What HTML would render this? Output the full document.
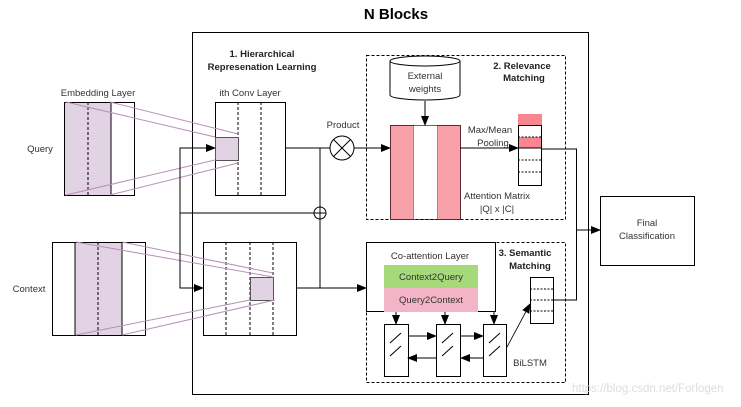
<!DOCTYPE html>
<html><head><meta charset="utf-8"><style>
html,body{margin:0;padding:0;background:#fff;width:741px;height:407px;overflow:hidden}
svg{display:block;font-family:"Liberation Sans",sans-serif}
</style></head><body>
<svg width="741" height="407" viewBox="0 0 741 407">
<defs><marker id="a" markerWidth="10" markerHeight="8" refX="9" refY="4" orient="auto" markerUnits="userSpaceOnUse"><path d="M0,0 L10,4 L0,8 z" fill="#000"/></marker></defs>
<rect width="741" height="407" fill="#fff"/>
<text x="396" y="19" font-size="15" font-weight="bold" text-anchor="middle">N Blocks</text>
<rect x="192.5" y="32.5" width="396" height="362" fill="none" stroke="#000" stroke-width="1"/>
<!-- embeddings -->
<rect x="64" y="102" width="47" height="93" fill="#e1d3e3"/>
<rect x="64.5" y="102.5" width="70" height="93" fill="none" stroke="#000"/>
<line x1="111" y1="102" x2="111" y2="195" stroke="#000"/>
<line x1="88" y1="102" x2="88" y2="195" stroke="#000" stroke-dasharray="3,2"/>
<rect x="75" y="242" width="47" height="93" fill="#e1d3e3"/>
<rect x="52.5" y="242.5" width="93" height="93" fill="none" stroke="#000"/>
<line x1="75" y1="242" x2="75" y2="335" stroke="#000"/><line x1="122" y1="242" x2="122" y2="335" stroke="#000"/>
<line x1="98" y1="242" x2="98" y2="335" stroke="#000" stroke-dasharray="3,2"/>
<!-- convs -->
<rect x="215.5" y="102.5" width="70" height="93" fill="none" stroke="#000"/>
<line x1="238" y1="102" x2="238" y2="195" stroke="#000" stroke-dasharray="3,2"/>
<line x1="261" y1="102" x2="261" y2="195" stroke="#000" stroke-dasharray="3,2"/>
<rect x="215.5" y="137.5" width="23" height="23" fill="#e1d3e3" stroke="#555"/>
<rect x="203.5" y="242.5" width="93" height="93" fill="none" stroke="#000"/>
<line x1="226" y1="242" x2="226" y2="335" stroke="#000" stroke-dasharray="3,2"/>
<line x1="250" y1="242" x2="250" y2="335" stroke="#000" stroke-dasharray="3,2"/>
<line x1="273" y1="242" x2="273" y2="335" stroke="#000" stroke-dasharray="3,2"/>
<rect x="250.5" y="277.5" width="23" height="23" fill="#e1d3e3" stroke="#555"/>
<g stroke="#b88fb8" stroke-width="1">
<line x1="66" y1="102" x2="215" y2="137"/><line x1="110" y1="102" x2="238" y2="134"/>
<line x1="66" y1="195" x2="215" y2="160"/><line x1="110" y1="195" x2="238" y2="163"/>
<line x1="76" y1="242" x2="273" y2="277"/><line x1="122" y1="242" x2="273" y2="273"/>
<line x1="76" y1="335" x2="250" y2="300"/><line x1="122" y1="335" x2="275" y2="300"/>
</g>
<!-- connectors -->
<g stroke="#000" fill="none">
<polyline points="215,148 180,148 180,288 203,288" />
<line x1="180" y1="148" x2="215" y2="148" marker-end="url(#a)"/>
<line x1="180" y1="288" x2="203" y2="288" marker-end="url(#a)"/>
<line x1="180" y1="213" x2="314" y2="213"/>
<line x1="285" y1="148" x2="330" y2="148"/>
<line x1="320" y1="148" x2="320" y2="288"/>
<circle cx="320" cy="213" r="6" fill="#fff"/><line x1="314" y1="213" x2="326" y2="213"/><line x1="320" y1="207" x2="320" y2="219"/>
<circle cx="342" cy="148" r="12" fill="#fff"/>
<line x1="333.5" y1="139.5" x2="350.5" y2="156.5"/><line x1="350.5" y1="139.5" x2="333.5" y2="156.5"/>
<line x1="354" y1="148" x2="390" y2="148" marker-end="url(#a)"/>
<line x1="296" y1="288" x2="366" y2="288" marker-end="url(#a)"/>
</g>
<!-- relevance -->
<rect x="366.5" y="55.5" width="199" height="164" fill="none" stroke="#000" stroke-dasharray="3,2"/>
<path d="M390,61 L390,95 A35,5 0 0 0 460,95 L460,61" fill="#fff" stroke="#000"/>
<ellipse cx="425" cy="61" rx="35" ry="5" fill="#fff" stroke="#000"/>
<line x1="425" y1="101" x2="425" y2="125" stroke="#000" marker-end="url(#a)"/>
<rect x="390.5" y="125.5" width="23" height="94" fill="#f8a1a8" stroke="#e06a78"/>
<rect x="437.5" y="125.5" width="23" height="94" fill="#f8a1a8" stroke="#e06a78"/>
<rect x="390.5" y="125.5" width="70" height="94" fill="none" stroke="#000" stroke-width="0.6"/>
<line x1="460" y1="148" x2="518" y2="148" stroke="#000" marker-end="url(#a)"/>
<rect x="518" y="114" width="24" height="11" fill="#f8858f"/>
<rect x="518" y="137" width="24" height="11" fill="#f8858f"/>
<rect x="518.5" y="125.5" width="23" height="60" fill="none" stroke="#000"/>
<g stroke="#000" stroke-dasharray="2,1.5"><line x1="518" y1="137" x2="542" y2="137"/><line x1="518" y1="160" x2="542" y2="160"/><line x1="518" y1="172" x2="542" y2="172"/></g>
<line x1="518" y1="148" x2="542" y2="148" stroke="#000"/>
<polyline points="542,149 576.5,149 576.5,300 553,300" fill="none" stroke="#000"/>
<line x1="576" y1="230" x2="600" y2="230" stroke="#000" marker-end="url(#a)"/>
<rect x="600.5" y="196.5" width="94" height="69" fill="none" stroke="#000"/>
<!-- semantic -->
<rect x="366.5" y="242.5" width="199" height="140" fill="none" stroke="#000" stroke-dasharray="3,2"/>
<rect x="366.5" y="242.5" width="129" height="69" fill="#fff" stroke="#000"/>
<rect x="384" y="265" width="94" height="23" fill="#a5d97a"/>
<rect x="384" y="288" width="94" height="24" fill="#f4b4c8"/>
<rect x="530.5" y="277.5" width="23" height="46" fill="#fff" stroke="#000"/>
<g stroke="#000" stroke-dasharray="2,1.5"><line x1="530" y1="289" x2="554" y2="289"/><line x1="530" y1="300" x2="554" y2="300"/><line x1="530" y1="311" x2="554" y2="311"/></g>
<g stroke="#000" fill="#fff">
<rect x="384.5" y="324.5" width="24" height="52"/><rect x="436.5" y="324.5" width="24" height="52"/><rect x="483.5" y="324.5" width="23" height="52"/>
<line x1="390" y1="343" x2="401" y2="333"/><line x1="390" y1="356" x2="401" y2="346"/>
<line x1="442" y1="343" x2="453" y2="333"/><line x1="442" y1="356" x2="453" y2="346"/>
<line x1="489" y1="343" x2="500" y2="333"/><line x1="489" y1="356" x2="500" y2="346"/>
<line x1="396" y1="312" x2="396" y2="324" marker-end="url(#a)"/>
<line x1="445" y1="312" x2="445" y2="324" marker-end="url(#a)"/>
<line x1="494" y1="312" x2="494" y2="324" marker-end="url(#a)"/>
<line x1="408" y1="336" x2="436" y2="336" marker-end="url(#a)"/>
<line x1="461" y1="336" x2="483" y2="336" marker-end="url(#a)"/>
<line x1="483" y1="358" x2="461" y2="358" marker-end="url(#a)"/>
<line x1="436" y1="358" x2="408" y2="358" marker-end="url(#a)"/>
<line x1="507" y1="347" x2="530" y2="304" stroke-width="0.8" marker-end="url(#a)"/>
</g>
<!-- text on top -->
<g font-size="9.5" font-weight="bold" text-anchor="middle" fill="#222">
<text x="262" y="57">1. Hierarchical</text><text x="262" y="70">Represenation Learning</text>
<text x="522" y="69">2. Relevance</text><text x="524" y="81">Matching</text>
<text x="525" y="256">3. Semantic</text><text x="530" y="269">Matching</text>
</g>
<g font-size="9.5" fill="#333" text-anchor="middle">
<text x="98" y="96">Embedding Layer</text><text x="250" y="96">ith Conv Layer</text>
<text x="40" y="152">Query</text><text x="29" y="292">Context</text>
<text x="343" y="128">Product</text>
<text x="425" y="79">External</text><text x="425" y="92">weights</text>
<text x="490" y="133">Max/Mean</text><text x="493" y="146">Pooling</text>
<text x="497" y="199">Attention Matrix</text><text x="497" y="212">|Q| x |C|</text>
<text x="430" y="259">Co-attention Layer</text>
<text x="431" y="280">Context2Query</text><text x="431" y="303">Query2Context</text>
<text x="530" y="366">BiLSTM</text>
<text x="647" y="226">Final</text><text x="647" y="239">Classification</text>
</g>
<text x="572" y="392" font-size="11.5" fill="#ddd">https://blog.csdn.net/Forlogen</text>
</svg>
</body></html>
